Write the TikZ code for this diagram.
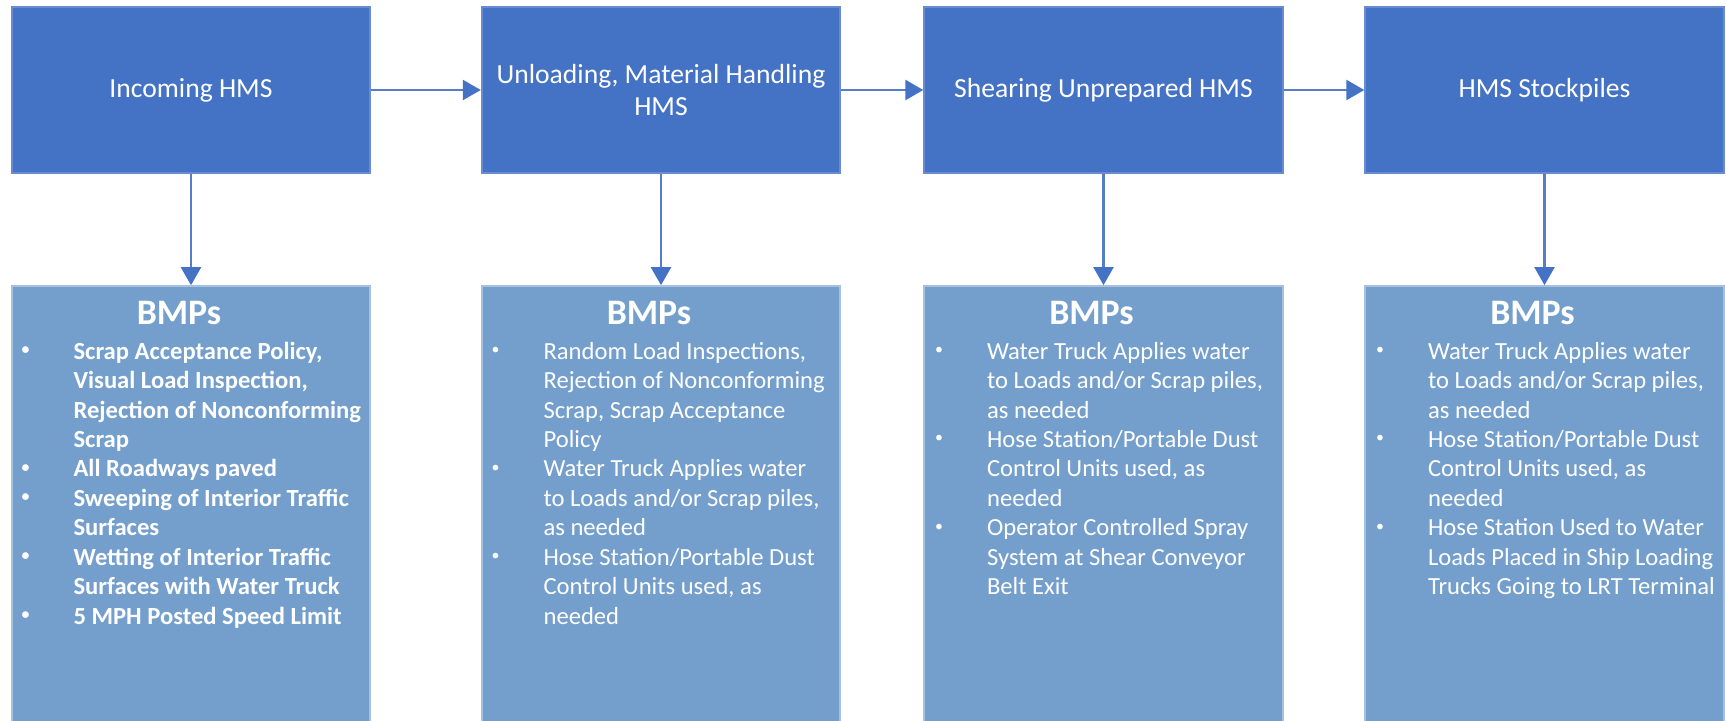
\documentclass[tikz,border=0pt]{standalone}
\usepackage{fontspec}
\setmainfont{Carlito}
\usetikzlibrary{arrows.meta,positioning,calc}

\definecolor{hmsblue}{RGB}{68,114,196}
\definecolor{hmsedge}{RGB}{105,140,208}
\definecolor{bmpfill}{RGB}{116,159,204}
\definecolor{bmpedge}{RGB}{168,192,224}
\definecolor{flowline}{RGB}{88,125,200}

\newcommand{\bmpdot}{\raisebox{0.4ex}{\fontsize{4.5}{5}\selectfont •}}

\begin{document}
\begin{tikzpicture}[x=0.01cm, y=-0.01cm,
	hmsbox/.style={draw=hmsedge, fill=hmsblue, line width=0.6pt, minimum width=3.58cm, minimum height=1.66cm, inner sep=0pt, text=white, align=center, font=\fontsize{7.85}{9.1}\selectfont},
	bmpbox/.style={draw=bmpedge, fill=bmpfill, line width=0.6pt, minimum width=3.58cm, minimum height=4.41cm, inner sep=0pt},
	bmphead/.style={text=white, font=\bfseries\fontsize{10.2}{12}\selectfont, inner sep=0pt, anchor=base},
	bmplist/.style={text=white, font=\fontsize{7}{8.37}\selectfont, inner sep=0pt, anchor=base west},
	flow/.style={draw=flowline, line width=0.6pt, -{Triangle[width=0.2cm, length=0.18cm, color=hmsblue]}}]

		\useasboundingbox[fill=white] (0,0) rectangle (1726,721);

		% process steps
		\node[hmsbox] (incoming) at (191,90) {Incoming HMS};
		\node[hmsbox] (unloading) at (661,90) {Unloading, Material Handling\\HMS};
		\node[hmsbox] (shearing) at (1103.5,90) {Shearing Unprepared HMS};
		\node[hmsbox] (stockpiles) at (1544.5,90) {HMS Stockpiles};

		% BMP boxes
		\node[bmpbox, below=1.11cm of incoming] (bmpA) {};
		\node[bmpbox, below=1.11cm of unloading] (bmpB) {};
		\node[bmpbox, below=1.11cm of shearing] (bmpC) {};
		\node[bmpbox, below=1.11cm of stockpiles] (bmpD) {};

		\node[bmphead] (headA) at ($(bmpA.north)+(-12,39)$) {BMPs};
		\node[bmphead] (headB) at ($(bmpB.north)+(-12,39)$) {BMPs};
		\node[bmphead] (headC) at ($(bmpC.north)+(-12,39)$) {BMPs};
		\node[bmphead] (headD) at ($(bmpD.north)+(-12,39)$) {BMPs};

		\node[bmplist, font=\bfseries\fontsize{7}{8.37}\selectfont] (listA) at ($(bmpA.north west)+(10,74)$) {%
			\begin{tabular}[t]{@{}p{0.52cm}@{}l@{}}
				\bmpdot & Scrap Acceptance Policy,\\
				  & Visual Load Inspection,\\
				  & Rejection of Nonconforming\\
				  & Scrap\\
				\bmpdot & All Roadways paved\\
				\bmpdot & Sweeping of Interior Traffic\\
				  & Surfaces\\
				\bmpdot & Wetting of Interior Traffic\\
				  & Surfaces with Water Truck\\
				\bmpdot & 5 MPH Posted Speed Limit
			\end{tabular}};
		\node[bmplist] (listB) at ($(bmpB.north west)+(10,74)$) {%
			\begin{tabular}[t]{@{}p{0.52cm}@{}l@{}}
				\bmpdot & Random Load Inspections,\\
				  & Rejection of Nonconforming\\
				  & Scrap, Scrap Acceptance\\
				  & Policy\\
				\bmpdot & Water Truck Applies water\\
				  & to Loads and/or Scrap piles,\\
				  & as needed\\
				\bmpdot & Hose Station/Portable Dust\\
				  & Control Units used, as\\
				  & needed
			\end{tabular}};
		\node[bmplist] (listC) at ($(bmpC.north west)+(11,74)$) {%
			\begin{tabular}[t]{@{}p{0.52cm}@{}l@{}}
				\bmpdot & Water Truck Applies water\\
				  & to Loads and/or Scrap piles,\\
				  & as needed\\
				\bmpdot & Hose Station/Portable Dust\\
				  & Control Units used, as\\
				  & needed\\
				\bmpdot & Operator Controlled Spray\\
				  & System at Shear Conveyor\\
				  & Belt Exit
			\end{tabular}};
		\node[bmplist] (listD) at ($(bmpD.north west)+(11,74)$) {%
			\begin{tabular}[t]{@{}p{0.52cm}@{}l@{}}
				\bmpdot & Water Truck Applies water\\
				  & to Loads and/or Scrap piles,\\
				  & as needed\\
				\bmpdot & Hose Station/Portable Dust\\
				  & Control Units used, as\\
				  & needed\\
				\bmpdot & Hose Station Used to Water\\
				  & Loads Placed in Ship Loading\\
				  & Trucks Going to LRT Terminal
			\end{tabular}};

		% connectors
		\draw[flow] (incoming) -- (unloading);
		\draw[flow] (unloading) -- (shearing);
		\draw[flow] (shearing) -- (stockpiles);
		\draw[flow] (incoming) -- (bmpA);
		\draw[flow] (unloading) -- (bmpB);
		\draw[flow] (shearing) -- (bmpC);
		\draw[flow] (stockpiles) -- (bmpD);

\end{tikzpicture}
\end{document}
